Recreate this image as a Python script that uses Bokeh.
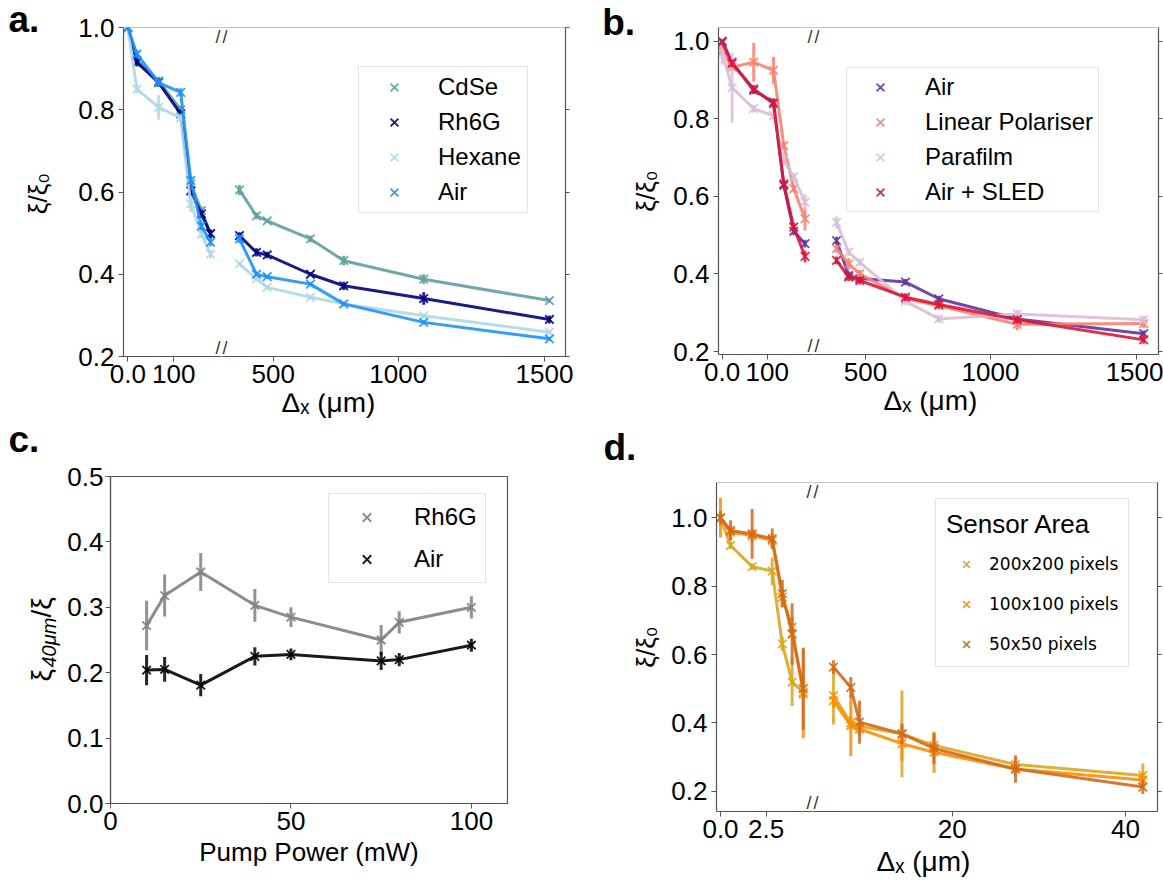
import math
from bokeh.plotting import figure
from bokeh.models import (ColumnDataSource, Range1d, FixedTicker, Span, Label,
                          Legend, LegendItem, PrintfTickFormatter)
from bokeh.layouts import row, column
from bokeh.embed import file_html
from bokeh.resources import INLINE

FONT = "Liberation Sans"
SPINE = "#555555"
TOPSPINE = "#888888"

# ---------------- panel a data ----------------
A_X_LEFT = [0, 20, 67, 115, 137, 160, 180]
A_X_RIGHT = [365, 433, 476, 649, 782, 1102, 1605]
A_NAMES = ["CdSe", "Rh6G", "Hexane", "Air"]
A_COLORS = ["#5f9ea0", "#000080", "#add8e6", "#1e90ff"]
A_CDSE_L = [1.0, 0.92, 0.87, 0.80, 0.62, 0.555, 0.50]
A_CDSE_R = [0.605, 0.542, 0.530, 0.486, 0.433, 0.388, 0.336]
A_CDSE_EL = [0.005, 0.01, 0.01, 0.01, 0.01, 0.01, 0.01]
A_CDSE_ER = [0.012, 0.008, 0.005, 0.008, 0.012, 0.012, 0.005]
A_RH6G_L = [1.0, 0.915, 0.866, 0.79, 0.603, 0.547, 0.498]
A_RH6G_R = [0.494, 0.453, 0.447, 0.400, 0.372, 0.341, 0.290]
A_RH6G_EL = [0.005, 0.01, 0.01, 0.01, 0.015, 0.01, 0.01]
A_RH6G_ER = [0.008, 0.01, 0.008, 0.005, 0.01, 0.015, 0.01]
A_HEX_L = [1.0, 0.85, 0.806, 0.78, 0.571, 0.498, 0.449]
A_HEX_R = [0.425, 0.389, 0.368, 0.344, 0.328, 0.299, 0.259]
A_HEX_EL = [0.005, 0.01, 0.03, 0.01, 0.02, 0.01, 0.01]
A_HEX_ER = [0.005, 0.005, 0.005, 0.005, 0.005, 0.005, 0.005]
A_AIR_L = [1.0, 0.935, 0.866, 0.842, 0.628, 0.517, 0.478]
A_AIR_R = [0.486, 0.400, 0.394, 0.376, 0.328, 0.283, 0.243]
A_AIR_EL = [0.005, 0.01, 0.01, 0.01, 0.01, 0.01, 0.01]
A_AIR_ER = [0.01, 0.005, 0.005, 0.005, 0.005, 0.005, 0.005]

# ---------------- panel b data ----------------
B_X_LEFT = [0, 22, 70, 114, 137, 159, 184]
B_X_RIGHT = [384, 433, 477, 660, 793, 1107, 1613]
B_NAMES = ["Air", "Linear Polariser", "Parafilm", "Air + SLED"]
B_COLORS = ["#663399", "#fa8072", "#d8bfd8", "#dc143c"]
B_AIR_L = [1.0, 0.946, 0.873, 0.843, 0.628, 0.51, 0.478]
B_AIR_R = [0.486, 0.396, 0.388, 0.379, 0.336, 0.284, 0.246]
B_AIR_EL = [0.005, 0.01, 0.01, 0.01, 0.01, 0.01, 0.01]
B_AIR_ER = [0.01, 0.01, 0.01, 0.008, 0.008, 0.008, 0.008]
B_LP_L = [0.976, 0.933, 0.946, 0.925, 0.731, 0.62, 0.542]
B_LP_R = [0.465, 0.426, 0.400, 0.336, 0.318, 0.270, 0.272]
B_LP_EL = [0.02, 0.01, 0.05, 0.035, 0.01, 0.01, 0.03]
B_LP_ER = [0.01, 0.015, 0.01, 0.01, 0.01, 0.015, 0.012]
B_PF_L = [0.97, 0.88, 0.826, 0.808, 0.693, 0.65, 0.585]
B_PF_R = [0.533, 0.456, 0.430, 0.330, 0.284, 0.297, 0.282]
B_PF_EL = [0.03, 0.09, 0.01, 0.01, 0.01, 0.01, 0.02]
B_PF_ER = [0.015, 0.01, 0.01, 0.01, 0.01, 0.01, 0.01]
B_SLED_L = [0.997, 0.942, 0.877, 0.839, 0.632, 0.521, 0.445]
B_SLED_R = [0.435, 0.392, 0.383, 0.340, 0.321, 0.282, 0.230]
B_SLED_EL = [0.005, 0.01, 0.01, 0.01, 0.01, 0.01, 0.015]
B_SLED_ER = [0.01, 0.01, 0.01, 0.01, 0.01, 0.01, 0.01]

# ---------------- panel c data ----------------
C_POWER = [10, 15, 25, 40, 50, 75, 80, 100]
C_NAMES = ["Rh6G", "Air"]
C_COLORS = ["#808080", "#000000"]
C_RH6G = [0.272, 0.318, 0.354, 0.303, 0.285, 0.250, 0.277, 0.300]
C_RH6G_ERR = [0.038, 0.032, 0.029, 0.025, 0.015, 0.023, 0.017, 0.017]
C_AIR = [0.204, 0.205, 0.181, 0.225, 0.228, 0.218, 0.220, 0.242]
C_AIR_ERR = [0.023, 0.019, 0.017, 0.014, 0.009, 0.014, 0.010, 0.010]

# ---------------- panel d data ----------------
D_X_LEFT = [0, 0.55, 1.73, 2.83, 3.38, 3.92, 4.53]
D_X_RIGHT = [6.3, 8.3, 9.3, 14.2, 17.9, 27.3, 42.0]
D_NAMES = ["200x200 pixels", "100x100 pixels", "50x50 pixels"]
D_COLORS = ["#daa520", "#ff8c00", "#d2691e"]
D_200_L = [1.0, 0.919, 0.857, 0.844, 0.631, 0.519, 0.49]
D_200_R = [0.48, 0.40, 0.39, 0.368, 0.334, 0.278, 0.246]
D_200_EL = [0.01, 0.01, 0.01, 0.04, 0.02, 0.07, 0.02]
D_200_ER = [0.085, 0.02, 0.02, 0.127, 0.03, 0.02, 0.035]
D_100_L = [1.0, 0.958, 0.948, 0.934, 0.768, 0.68, 0.485]
D_100_R = [0.465, 0.392, 0.382, 0.339, 0.314, 0.265, 0.233]
D_100_EL = [0.058, 0.02, 0.02, 0.02, 0.03, 0.03, 0.13]
D_100_ER = [0.02, 0.09, 0.02, 0.05, 0.06, 0.02, 0.02]
D_50_L = [1.0, 0.963, 0.953, 0.939, 0.778, 0.66, 0.5]
D_50_R = [0.563, 0.504, 0.402, 0.368, 0.325, 0.265, 0.212]
D_50_EL = [0.02, 0.03, 0.073, 0.03, 0.04, 0.09, 0.12]
D_50_ER = [0.02, 0.03, 0.063, 0.03, 0.045, 0.04, 0.02]

Y_TICKS = [0.2, 0.4, 0.6, 0.8, 1.0]
C_Y_TICKS = [0.0, 0.1, 0.2, 0.3, 0.4, 0.5]
C_X_TICKS = [0, 50, 100]
RIGHT_TICKS_UM = [500, 1000, 1585]
RIGHT_TICK_LABELS_UM = {1585: "1500"}
D_RIGHT_TICKS = [20, 40]
LEFT_TICKS_UM = [0, 100]
D_LEFT_TICKS = [0, 2.5]
ZERO_LABEL = {0: "0.0"}

XLABEL = "Δₓ (μm)"
YLABEL = "ξ/ξ₀"
X_STANDOFF = 3


def no_align(p):
    try:
        p.frame_align = False
    except Exception:
        pass


def base_fig(w, h, xr, yr, bl, br, bt, bb, yright=False, axes=True):
    kw = {}
    if not axes:
        kw = dict(x_axis_location=None, y_axis_location=None)
    elif yright:
        kw = dict(y_axis_location="right")
    p = figure(width=w, height=h, x_range=Range1d(*xr), y_range=Range1d(*yr),
               output_backend="svg", toolbar_location=None, tools="", title=None,
               min_border=0,
               min_border_left=bl, min_border_right=br,
               min_border_top=bt, min_border_bottom=bb, **kw)
    p.xgrid.visible = False
    p.ygrid.visible = False
    p.outline_line_color = None
    p.background_fill_color = "white"
    p.border_fill_color = "white"
    no_align(p)
    return p


def style_axis(ax, ticks, overrides=None, labels=True, standoff=X_STANDOFF, fmt=None):
    ax.ticker = FixedTicker(ticks=ticks, minor_ticks=[])
    ax.major_tick_in = 0
    ax.major_tick_out = 5 if labels else 4
    ax.major_tick_line_color = SPINE
    ax.minor_tick_line_color = None
    ax.axis_line_color = SPINE
    ax.axis_line_width = 1.2
    ax.major_label_text_font = FONT
    if fmt:
        ax.formatter = PrintfTickFormatter(format=fmt)
    if labels:
        ax.major_label_text_color = "black"
        ax.major_label_text_font_size = "26px"
        ax.major_label_standoff = standoff
    else:
        ax.major_label_text_color = None
        ax.major_label_text_font_size = "1px"
        ax.major_label_standoff = 0
    if overrides:
        ax.major_label_overrides = overrides
    ax.axis_label_text_font = FONT
    ax.axis_label_text_font_size = "26px"
    ax.axis_label_text_font_style = "normal"
    ax.axis_label_text_color = "black"


def add_series(p, xs, ys, es, color):
    src = ColumnDataSource(dict(x=xs, y=ys,
                                lo=[y - e for y, e in zip(ys, es)],
                                hi=[y + e for y, e in zip(ys, es)]))
    p.segment(x0="x", y0="lo", x1="x", y1="hi", source=src,
              line_color=color, line_width=3, line_alpha=0.85)
    p.line("x", "y", source=src, line_color=color, line_width=3, line_alpha=0.9)
    return p.scatter("x", "y", source=src, marker="x", size=12,
                     line_color=color, line_width=1.8, line_alpha=0.9)


def top_spine(p):
    p.add_layout(Span(location=p.y_range.end, dimension="width",
                      line_color=TOPSPINE, line_width=1.2))


def break_marks(p, side):
    x = p.x_range.end if side == "left" else p.x_range.start
    for yv, yo in ((p.y_range.start, 9), (p.y_range.end, -9)):
        p.add_layout(Label(x=x, y=yv, y_offset=yo, text="/", text_font=FONT,
                           text_font_size="18px",
                           text_align="right" if side == "left" else "left",
                           text_baseline="middle",
                           x_offset=-1 if side == "left" else 1,
                           text_color="#333333"))


def text_fig(w, h):
    """A figure whose frame is its whole canvas, used only to hold text."""
    return base_fig(w, h, (0, w), (0, h), 0, 0, 0, 0, axes=False)


def xlabel_fig(w, h, cx, by):
    p = text_fig(w, h)
    p.add_layout(Label(x=cx, y=by, text=XLABEL, text_font=FONT,
                       text_font_size="28px", text_align="center",
                       text_baseline="alphabetic", text_color="black"))
    return p


def letter(p, txt, lx, ly):
    p.add_layout(Label(x=lx, y=ly, text=txt, text_font=FONT,
                       text_font_size="37px", text_font_style="bold",
                       text_align="left", text_baseline="alphabetic",
                       text_color="black"))


def label_fig(w, h, txt, lx, ly, ylab_x, ylab_y):
    p = text_fig(w, h)
    letter(p, txt, lx, ly)
    p.add_layout(Label(x=ylab_x, y=ylab_y, text=YLABEL, angle=math.pi / 2,
                       text_font=FONT, text_font_size="26px",
                       text_align="center", text_baseline="middle",
                       text_color="black"))
    return p


def make_legend(items, loc, gw, gh, lh, sp, pad, so, font, fs, title=None):
    leg = Legend(items=items, location=loc, glyph_width=gw, glyph_height=gh,
                 label_height=lh, spacing=sp, padding=pad, label_standoff=so,
                 margin=0, label_text_font=font, label_text_font_size=fs,
                 label_text_color="black", border_line_color="#cccccc",
                 border_line_width=1, background_fill_color="white",
                 background_fill_alpha=0.8)
    if title:
        leg.title = title
        leg.title_text_font = FONT
        leg.title_text_font_size = "26px"
        leg.title_text_font_style = "normal"
        leg.title_text_color = "black"
        leg.title_standoff = 12
    return leg


def left_fig(w, h, xr, yr, bl, bt, bb, xticks, xover):
    p = base_fig(w, h, xr, yr, bl, 0, bt, bb)
    style_axis(p.xaxis[0], xticks, xover)
    style_axis(p.yaxis[0], Y_TICKS, standoff=4, fmt="%.1f")
    top_spine(p)
    break_marks(p, "left")
    return p


def right_fig(w, h, xr, yr, br, bt, bb, xticks, xover):
    p = base_fig(w, h, xr, yr, 0, br, bt, bb, yright=True)
    style_axis(p.xaxis[0], xticks, xover)
    style_axis(p.yaxis[0], Y_TICKS, labels=False)
    top_spine(p)
    break_marks(p, "right")
    return p


# Row 1 spans 0..420 px, row 2 spans 420..885 px.
# ======================= panel a =======================
A_YR = (0.2, 1.0)
a_lab = label_fig(70, 420, "a.", 8, 400.8, 37.5, 227)
a_l = left_fig(151, 420, (-9.35, 203.7), A_YR, 53, 27, 64, LEFT_TICKS_UM, ZERO_LABEL)
a_r = right_fig(377, 393, (293.2, 1669.2), A_YR, 33, 27, 37,
                RIGHT_TICKS_UM, RIGHT_TICK_LABELS_UM)
a_xl = xlabel_fig(377, 27, 107, 18.2)
a_sets = [(A_CDSE_L, A_CDSE_EL, A_CDSE_R, A_CDSE_ER),
          (A_RH6G_L, A_RH6G_EL, A_RH6G_R, A_RH6G_ER),
          (A_HEX_L, A_HEX_EL, A_HEX_R, A_HEX_ER),
          (A_AIR_L, A_AIR_EL, A_AIR_R, A_AIR_ER)]
a_items = []
for name, col, (yl, el, yr_, er) in zip(A_NAMES, A_COLORS, a_sets):
    add_series(a_l, A_X_LEFT, yl, el, col)
    r = add_series(a_r, A_X_RIGHT, yr_, er, col)
    a_items.append(LegendItem(label=name, renderers=[r]))
a_r.add_layout(make_legend(a_items, (137, 143), 58, 28, 28, 7, 6, 15, FONT, "24px"))

# ======================= panel b =======================
B_YR = (0.1923, 1.0353)
b_lab = label_fig(70, 420, "b.", 3.7, 398.1, 47, 229.5)
b_l = left_fig(145, 420, (-8.2, 202.9), B_YR, 50, 27, 66, LEFT_TICKS_UM, ZERO_LABEL)
b_r = right_fig(350, 391, (292, 1672), B_YR, 5, 27, 37,
                RIGHT_TICKS_UM, RIGHT_TICK_LABELS_UM)
b_xl = xlabel_fig(350, 29, 117, 19.9)
b_sets = [(B_AIR_L, B_AIR_EL, B_AIR_R, B_AIR_ER),
          (B_LP_L, B_LP_EL, B_LP_R, B_LP_ER),
          (B_PF_L, B_PF_EL, B_PF_R, B_PF_ER),
          (B_SLED_L, B_SLED_EL, B_SLED_R, B_SLED_ER)]
b_items = []
for name, col, (yl, el, yr_, er) in zip(B_NAMES, B_COLORS, b_sets):
    add_series(b_l, B_X_LEFT, yl, el, col)
    r = add_series(b_r, B_X_RIGHT, yr_, er, col)
    b_items.append(LegendItem(label=name, renderers=[r]))
b_r.add_layout(make_legend(b_items, (33, 142), 56, 28, 28, 7, 5, 17, FONT, "24px"))

# ======================= panel c =======================
c_lab = text_fig(64, 465)
letter(c_lab, "c.", 8, 445.8)
# composed y title: xi with subscript "40 um", then "/xi"
c_lab.add_layout(Label(x=41, y=204, angle=math.pi / 2, text="ξ", text_font=FONT,
                       text_font_size="28px", text_align="left",
                       text_baseline="alphabetic", text_color="black"))
c_lab.add_layout(Label(x=48, y=218, angle=math.pi / 2, text="40μm", text_font=FONT,
                       text_font_size="20px", text_font_style="italic",
                       text_align="left", text_baseline="alphabetic",
                       text_color="black"))
c_lab.add_layout(Label(x=41, y=268, angle=math.pi / 2, text="/ξ", text_font=FONT,
                       text_font_size="28px", text_align="left",
                       text_baseline="alphabetic", text_color="black"))

c = base_fig(534, 465, (0, 110), (0, 0.5), 46, 91, 56, 82)
c.outline_line_color = SPINE
c.outline_line_width = 1.2
style_axis(c.xaxis[0], C_X_TICKS)
style_axis(c.yaxis[0], C_Y_TICKS, standoff=2, fmt="%.1f")
c.xaxis[0].axis_label = "Pump Power (mW)"
c.xaxis[0].axis_label_standoff = 4
c_items = []
for name, col, ys, es in zip(C_NAMES, C_COLORS, [C_RH6G, C_AIR], [C_RH6G_ERR, C_AIR_ERR]):
    r = add_series(c, C_POWER, ys, es, col)
    c_items.append(LegendItem(label=name, renderers=[r]))
c.add_layout(make_legend(c_items, (218, 220), 59, 30, 30, 12, 8, 18, FONT, "24px"))

# ======================= panel d =======================
D_YR = (0.1406, 1.1033)
d_lab = label_fig(62, 465, "d.", 5, 438.1, 47, 238.5)
d_l = left_fig(152, 465, (-0.219, 5.035), D_YR, 56, 62, 74, D_LEFT_TICKS, ZERO_LABEL)
d_r = right_fig(351, 428, (3.88, 43.69), D_YR, 6, 62, 37, D_RIGHT_TICKS, None)
d_xl = xlabel_fig(351, 37, 111, 24.5)
d_sets = [(D_200_L, D_200_EL, D_200_R, D_200_ER),
          (D_100_L, D_100_EL, D_100_R, D_100_ER),
          (D_50_L, D_50_EL, D_50_R, D_50_ER)]
d_items = []
for name, col, (yl, el, yr_, er) in zip(D_NAMES, D_COLORS, d_sets):
    add_series(d_l, D_X_LEFT, yl, el, col)
    r = add_series(d_r, D_X_RIGHT, yr_, er, col)
    d_items.append(LegendItem(label=name, renderers=[r]))
d_r.add_layout(make_legend(d_items, (123, 144), 40, 24, 24, 16, 10, 3,
                           "DejaVu Sans", "17px", title="Sensor Area"))

layout = column(row(a_lab, a_l, column(a_r, a_xl), b_lab, b_l, column(b_r, b_xl)),
                row(c_lab, c, d_lab, d_l, column(d_r, d_xl)))
open("out.html", "w").write(file_html(layout, INLINE))
